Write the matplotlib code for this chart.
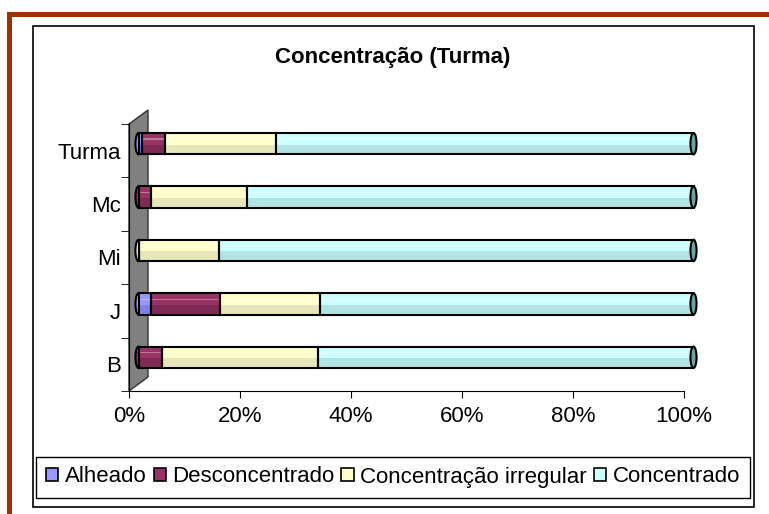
import numpy as np
import matplotlib.pyplot as plt
from matplotlib import transforms
from matplotlib.patches import Polygon, Ellipse, Rectangle, Patch

# data (percent per group)
categories = ['B', 'J', 'Mi', 'Mc', 'Turma']
alheado = [0.0, 2.2, 0.0, 0.0, 0.6]
desconcentrado = [4.2, 12.4, 0.0, 2.3, 4.1]
irregular = [28.1, 18.1, 14.5, 17.3, 20.0]
concentrado = [67.7, 67.3, 85.5, 80.4, 75.3]
series_names = ['Alheado', 'Desconcentrado', 'Concentração irregular', 'Concentrado']
xticks = [0, 20, 40, 60, 80, 100]

colors = ['#9999FF', '#993366', '#FFFFCC', '#CCFFFF']
shades = ['#8080E6', '#7E2A55', '#E6E6B8', '#B2E4E4']
cap_color = '#6FA3A3'

plt.rcParams['font.family'] = ['Liberation Sans', 'DejaVu Sans']

W, H = 769, 514
fig = plt.figure(figsize=(W / 100, H / 100), dpi=100)


def px(x0, y0, x1, y1):
    return [x0 / W, 1 - y1 / H, (x1 - x0) / W, (y1 - y0) / H]


# brown frame and chart box
fig.add_artist(Rectangle((7 / W, 0), 5 / W, 1 - 12 / H, transform=fig.transFigure,
                         color='#993300', lw=0))
fig.add_artist(Rectangle((7 / W, 1 - 17 / H), 1 - 7 / W, 5 / H, transform=fig.transFigure,
                         color='#993300', lw=0))
fig.add_artist(Rectangle((33 / W, 1 - 507 / H), (754 - 33) / W, (507 - 26) / H,
                         transform=fig.transFigure, fill=False, edgecolor='black', lw=1.2))

ax = fig.add_axes(px(129, 124, 684, 391))
ax.set_xlim(0, 100)
ax.set_ylim(0, 5)

# back wall (3D look)
dx, dy = 19 / 555, 14 / 267
wall = Polygon([(0, 0), (0, 1), (dx, 1 + dy), (dx, dy)], closed=True,
               transform=ax.transAxes, facecolor='#808080', edgecolor='#333333',
               lw=1, clip_on=False, zorder=1)
ax.add_patch(wall)

tr = transforms.offset_copy(ax.transData, fig=fig, x=9.5, y=7, units='dots')

y = np.arange(len(categories)) + 0.5
h = 0.4
data = [alheado, desconcentrado, irregular, concentrado]
left = np.zeros(len(categories))

# rounded left end
first_col = []
for i in range(len(categories)):
    for s in range(len(data)):
        if data[s][i] > 0:
            first_col.append(colors[s])
            break
for i in range(len(categories)):
    ax.add_patch(Ellipse((0, y[i]), 1.1, h, transform=tr, facecolor=first_col[i],
                         edgecolor='black', lw=1.5, clip_on=False, zorder=2))

for s, vals in enumerate(data):
    vals = np.array(vals)
    ax.barh(y, vals, left=left, height=h, color=colors[s], lw=0,
            transform=tr, clip_on=False, zorder=3)
    ax.barh(y - h * 0.27, vals, left=left, height=h * 0.46, color=shades[s], lw=0,
            transform=tr, clip_on=False, zorder=3)
    ax.barh(y + h * 0.22, vals, left=left, height=h * 0.05, color='white', alpha=0.35,
            lw=0, transform=tr, clip_on=False, zorder=3)
    ax.barh(y, vals, left=left, height=h, facecolor='none', edgecolor='black', lw=1.5,
            transform=tr, clip_on=False, zorder=4)
    left = left + vals

# right end caps
for i in range(len(categories)):
    ax.add_patch(Ellipse((left[i], y[i]), 1.1, h, transform=tr, facecolor=cap_color,
                         edgecolor='black', lw=1.5, clip_on=False, zorder=5))

ax.set_yticks(y, categories)
ax.set_yticks(np.arange(len(categories) + 1), minor=True)
ax.tick_params(axis='y', which='major', length=0, pad=6, labelsize=16)
ax.tick_params(axis='y', which='minor', length=6, direction='out')
ax.set_xticks(xticks, [f'{v}%' for v in xticks])
ax.tick_params(axis='x', length=5, direction='out', pad=6, labelsize=16)
ax.spines['top'].set_visible(False)
ax.spines['right'].set_visible(False)
ax.patch.set_visible(False)

fig.text(393 / W, 1 - 57 / H, 'Concentração (Turma)', ha='center', va='center',
         fontsize=16, fontweight='bold')

handles = [Patch(facecolor=c, edgecolor='black', lw=1.2) for c in colors]
leg = fig.legend(handles, series_names, loc='center', bbox_to_anchor=(393 / W, 1 - 477 / H),
                 ncol=4, fancybox=False, edgecolor='black', fontsize=16, framealpha=1,
                 handlelength=0.55, handleheight=0.55, handletextpad=0.3,
                 columnspacing=0.3, borderpad=0.45, borderaxespad=0)
leg.get_frame().set_linewidth(1)

fig.savefig('out.png', dpi=100)
